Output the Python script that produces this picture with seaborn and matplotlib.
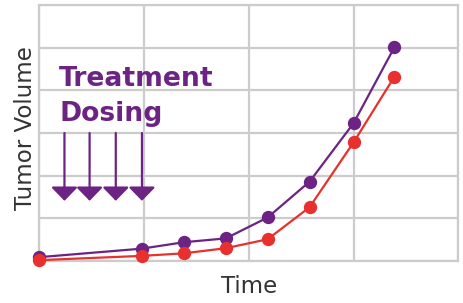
import numpy as np
import pandas as pd
import matplotlib
matplotlib.use("Agg")
import matplotlib.pyplot as plt
import seaborn as sns

# Data (x in grid columns, y in grid rows)
time_pts = [0.0, 0.98, 1.38, 1.78, 2.18, 2.58, 3.0, 3.39]
control_vol = [0.09, 0.29, 0.44, 0.53, 1.02, 1.86, 3.23, 5.01]
treated_vol = [0.02, 0.12, 0.18, 0.30, 0.51, 1.26, 2.78, 4.32]
dose_times = [0.24, 0.48, 0.73, 0.98]

purple = "#6C2383"
red = "#E8302E"
grid_col = "#CCCCCC"

df = pd.DataFrame({
    "time": time_pts * 2,
    "volume": control_vol + treated_vol,
    "group": ["control"] * len(time_pts) + ["treated"] * len(time_pts),
})

sns.set_style("white")
plt.rcParams["font.family"] = ["DejaVu Sans"]

fig = plt.figure(figsize=(4.63, 3.03), dpi=100)
ax = fig.add_axes([0.0849, 0.1386, 0.905, 0.845])

sns.lineplot(data=df, x="time", y="volume", hue="group",
             palette={"control": purple, "treated": red},
             marker="o", markersize=9.6, markeredgewidth=0,
             linewidth=1.6, legend=False, ax=ax, clip_on=False, zorder=5)

# grid
ax.set_xlim(0, 4)
ax.set_ylim(0, 6)
ax.set_xticks(range(0, 5))
ax.set_yticks(range(0, 7))
ax.grid(True, color=grid_col, linewidth=1.6)
ax.tick_params(length=0, labelbottom=False, labelleft=False)
for s in ax.spines.values():
    s.set_color(grid_col)
    s.set_linewidth(1.6)

# dosing arrows
for t in dose_times:
    ax.annotate("", xy=(t, 1.41), xytext=(t, 3.0),
                arrowprops=dict(arrowstyle="-|>,head_length=8.4,head_width=8.2",
                                mutation_scale=1, color=purple, lw=1.6,
                                shrinkA=0, shrinkB=0))

ax.text(0.19, 4.11, "Treatment", color=purple, fontsize=19.2,
        fontweight="bold", ha="left", va="baseline")
ax.text(0.19, 3.28, "Dosing", color=purple, fontsize=19.2,
        fontweight="bold", ha="left", va="baseline")

ax.set_xlabel("Time", fontsize=16.5, color="#333333", labelpad=10)
ax.set_ylabel("Tumor Volume", fontsize=16.5, color="#333333")
ax.yaxis.set_label_coords(-0.006, 0.52)

fig.savefig("out.png", dpi=100)
